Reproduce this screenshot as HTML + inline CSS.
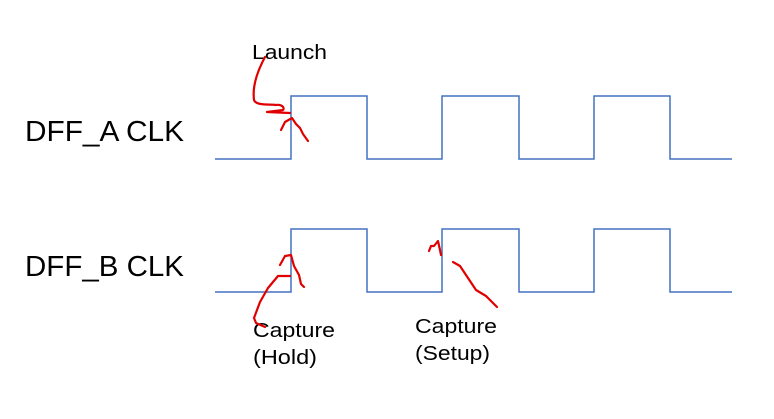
<!DOCTYPE html>
<html><head><style>
html,body{margin:0;padding:0;background:#fff;}
</style></head><body>
<svg width="774" height="419" xmlns="http://www.w3.org/2000/svg" style="display:block">
<g fill="none" stroke="#4472C4" stroke-width="1.5">
<polyline points="215,159 291,159 291,96 367,96 367,159 442,159 442,96 519,96 519,159 594,159 594,96 670,96 670,159 732,159"/>
<polyline points="215,292 291,292 291,229 367,229 367,292 442,292 442,229 519,229 519,292 594,292 594,229 670,229 670,292 732,292"/>
</g>
<g font-family="Liberation Sans, sans-serif" fill="#000">
<text x="25" y="141" font-size="29" textLength="159" lengthAdjust="spacingAndGlyphs">DFF_A CLK</text>
<text x="25" y="276" font-size="29" textLength="159" lengthAdjust="spacingAndGlyphs">DFF_B CLK</text>
<text x="252" y="59" font-size="20" textLength="75" lengthAdjust="spacingAndGlyphs">Launch</text>
<text x="253" y="337" font-size="20" textLength="82" lengthAdjust="spacingAndGlyphs">Capture</text>
<text x="253" y="364" font-size="20" textLength="64" lengthAdjust="spacingAndGlyphs">(Hold)</text>
<text x="415" y="333" font-size="20" textLength="82" lengthAdjust="spacingAndGlyphs">Capture</text>
<text x="415" y="360" font-size="20" textLength="75" lengthAdjust="spacingAndGlyphs">(Setup)</text>
</g>
<g fill="none" stroke="#E00000" stroke-width="2.2" stroke-linecap="round" stroke-linejoin="round">
<path d="M265,57 C258,70 252,85 254,100 C256,106 270,104 276,105 C282,104 285,108 283,110 L267,112 L290,113"/>
<path d="M281,130 L285,122 L292,118 L296,124 L300,128 L303,134 L308,141"/>
<path d="M280,265 L285,256 L291,255 L294,266 L299,275 L301,284 L304,287"/>
<path d="M290,276 L278,276 L268,288 L260,302 L254,318 L256,323 L265,327"/>
<path d="M429,251 L431,246 L434,246 L438,241 L440,250 L441,255"/>
<path d="M453,262 L460,266 L468,278 L476,290 L486,296 L493,303 L497,307"/>
</g>
</svg>
</body></html>
